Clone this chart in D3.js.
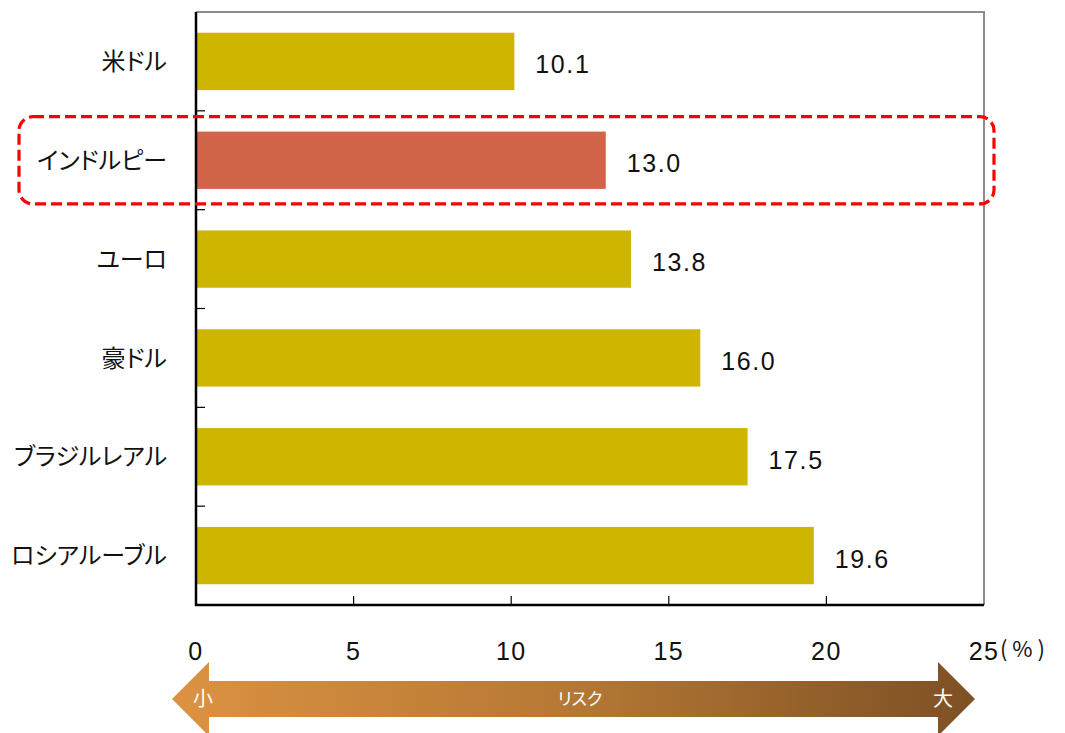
<!DOCTYPE html>
<html>
<head>
<meta charset="utf-8">
<script src="https://cdn.jsdelivr.net/npm/d3@7"></script>
<style>
  body { margin: 0; background: #fff; }
  svg { display: block; }
  .jp { font-feature-settings: "palt"; }
</style>
</head>
<body>
<div id="chart"></div>
<script>
// currencies, top to bottom
const categories = ['米ドル', 'インドルピー', 'ユーロ', '豪ドル', 'ブラジルレアル', 'ロシアルーブル'];
const values = [10.1, 13.0, 13.8, 16.0, 17.5, 19.6];
const highlight = 'インドルピー';
const xTicks = [0, 5, 10, 15, 20, 25];

const width = 1065, height = 733;
const margin = { left: 196, right: 81, top: 12, bottom: 128 };

const svg = d3.select('#chart').append('svg')
  .attr('width', width)
  .attr('height', height);

const x = d3.scaleLinear()
  .domain([0, 25])
  .range([margin.left, width - margin.right]);

const y = d3.scaleBand()
  .domain(categories)
  .range([margin.top, height - margin.bottom])
  .paddingInner(0.42)
  .paddingOuter(0.21);

const plotTop = margin.top, plotBottom = height - margin.bottom;
const fontLatin = 'Liberation Sans, Arial, sans-serif';
const fontJp = 'Noto Sans CJK JP, sans-serif';

// gray frame top / right
svg.append('path')
  .attr('d', `M${x(0)},${plotTop}H${x(25)}V${plotBottom}`)
  .attr('fill', 'none')
  .attr('stroke', '#8c8c8c')
  .attr('stroke-width', 2);

// bars
svg.append('g').selectAll('rect')
  .data(categories)
  .join('rect')
  .attr('x', x(0))
  .attr('y', d => y(d))
  .attr('width', (d, i) => x(values[i]) - x(0))
  .attr('height', y.bandwidth())
  .attr('fill', d => d === highlight ? '#d2644a' : '#cdb500');

// value labels
svg.append('g').selectAll('text')
  .data(categories)
  .join('text')
  .attr('x', (d, i) => x(values[i]) + 21)
  .attr('y', d => y(d) + y.bandwidth() / 2 + 12)
  .attr('font-family', fontLatin)
  .attr('font-size', 25)
  .attr('letter-spacing', 1.6)
  .attr('fill', '#111')
  .text((d, i) => values[i].toFixed(1));

// left axis with category-boundary ticks
const boundaries = d3.range(1, categories.length).map(i => plotTop + i * (plotBottom - plotTop) / categories.length);
svg.append('g').selectAll('line')
  .data(boundaries)
  .join('line')
  .attr('x1', x(0)).attr('x2', x(0) + 9)
  .attr('y1', d => d).attr('y2', d => d)
  .attr('stroke', '#000').attr('stroke-width', 1.2);

svg.append('g').selectAll('text')
  .data(categories)
  .join('text')
  .attr('class', 'jp')
  .attr('x', 167)
  .attr('y', d => y(d) + y.bandwidth() / 2)
  .attr('dy', '0.36em')
  .attr('text-anchor', 'end')
  .attr('font-family', fontJp)
  .attr('font-size', 24)
  .attr('fill', '#111')
  .text(d => d);

// bottom axis ticks (inward)
svg.append('g').selectAll('line')
  .data(xTicks.slice(1, -1))
  .join('line')
  .attr('x1', d => x(d)).attr('x2', d => x(d))
  .attr('y1', plotBottom).attr('y2', plotBottom - 9)
  .attr('stroke', '#000').attr('stroke-width', 1.2);

svg.append('g').selectAll('text')
  .data(xTicks)
  .join('text')
  .attr('x', d => x(d))
  .attr('y', 660)
  .attr('text-anchor', 'middle')
  .attr('font-family', fontLatin)
  .attr('font-size', 25)
  .attr('letter-spacing', 1.4)
  .attr('fill', '#111')
  .text(d => d);

svg.append('text')
  .attr('x', 1000)
  .attr('y', 657)
  .attr('font-family', fontJp)
  .attr('font-size', 22)
  .attr('fill', '#111')
  .text('( % )');

// black left / bottom axis lines
svg.append('path')
  .attr('d', `M${x(0)},${plotTop}V${plotBottom}H${x(25)}`)
  .attr('fill', 'none')
  .attr('stroke', '#000')
  .attr('stroke-width', 2.5);

// red dashed highlight box
svg.append('rect')
  .attr('x', 19)
  .attr('y', y(highlight) - 15)
  .attr('width', 975)
  .attr('height', y.bandwidth() + 30)
  .attr('rx', 14)
  .attr('fill', 'none')
  .attr('stroke', '#ff0000')
  .attr('stroke-width', 3.2)
  .attr('stroke-dasharray', '11,5');

// risk arrow
const grad = svg.append('defs').append('linearGradient')
  .attr('id', 'riskGrad')
  .attr('x1', '0%').attr('x2', '100%');
grad.append('stop').attr('offset', '0%').attr('stop-color', '#dc9242');
grad.append('stop').attr('offset', '50%').attr('stop-color', '#b57834');
grad.append('stop').attr('offset', '100%').attr('stop-color', '#7d5024');

const ay = 699, shaftH = 18, headH = 37, tipL = 172, tipR = 975, headW = 37;
svg.append('path')
  .attr('d', `M${tipL},${ay}L${tipL + headW},${ay - headH}V${ay - shaftH}H${tipR - headW}V${ay - headH}`
    + `L${tipR},${ay}L${tipR - headW},${ay + headH}V${ay + shaftH}H${tipL + headW}V${ay + headH}Z`)
  .attr('fill', 'url(#riskGrad)');

svg.append('text')
  .attr('x', 203).attr('y', ay).attr('dy', '0.36em')
  .attr('text-anchor', 'middle')
  .attr('font-family', fontJp).attr('font-size', 20)
  .attr('fill', '#fff')
  .text('小');
svg.append('text')
  .attr('x', 943).attr('y', ay).attr('dy', '0.36em')
  .attr('text-anchor', 'middle')
  .attr('font-family', fontJp).attr('font-size', 20)
  .attr('fill', '#fff')
  .text('大');
svg.append('text')
  .attr('class', 'jp')
  .attr('x', 580).attr('y', ay).attr('dy', '0.36em')
  .attr('text-anchor', 'middle')
  .attr('font-family', fontJp).attr('font-size', 17)
  .attr('fill', '#fff')
  .text('リスク');
</script>
</body>
</html>
